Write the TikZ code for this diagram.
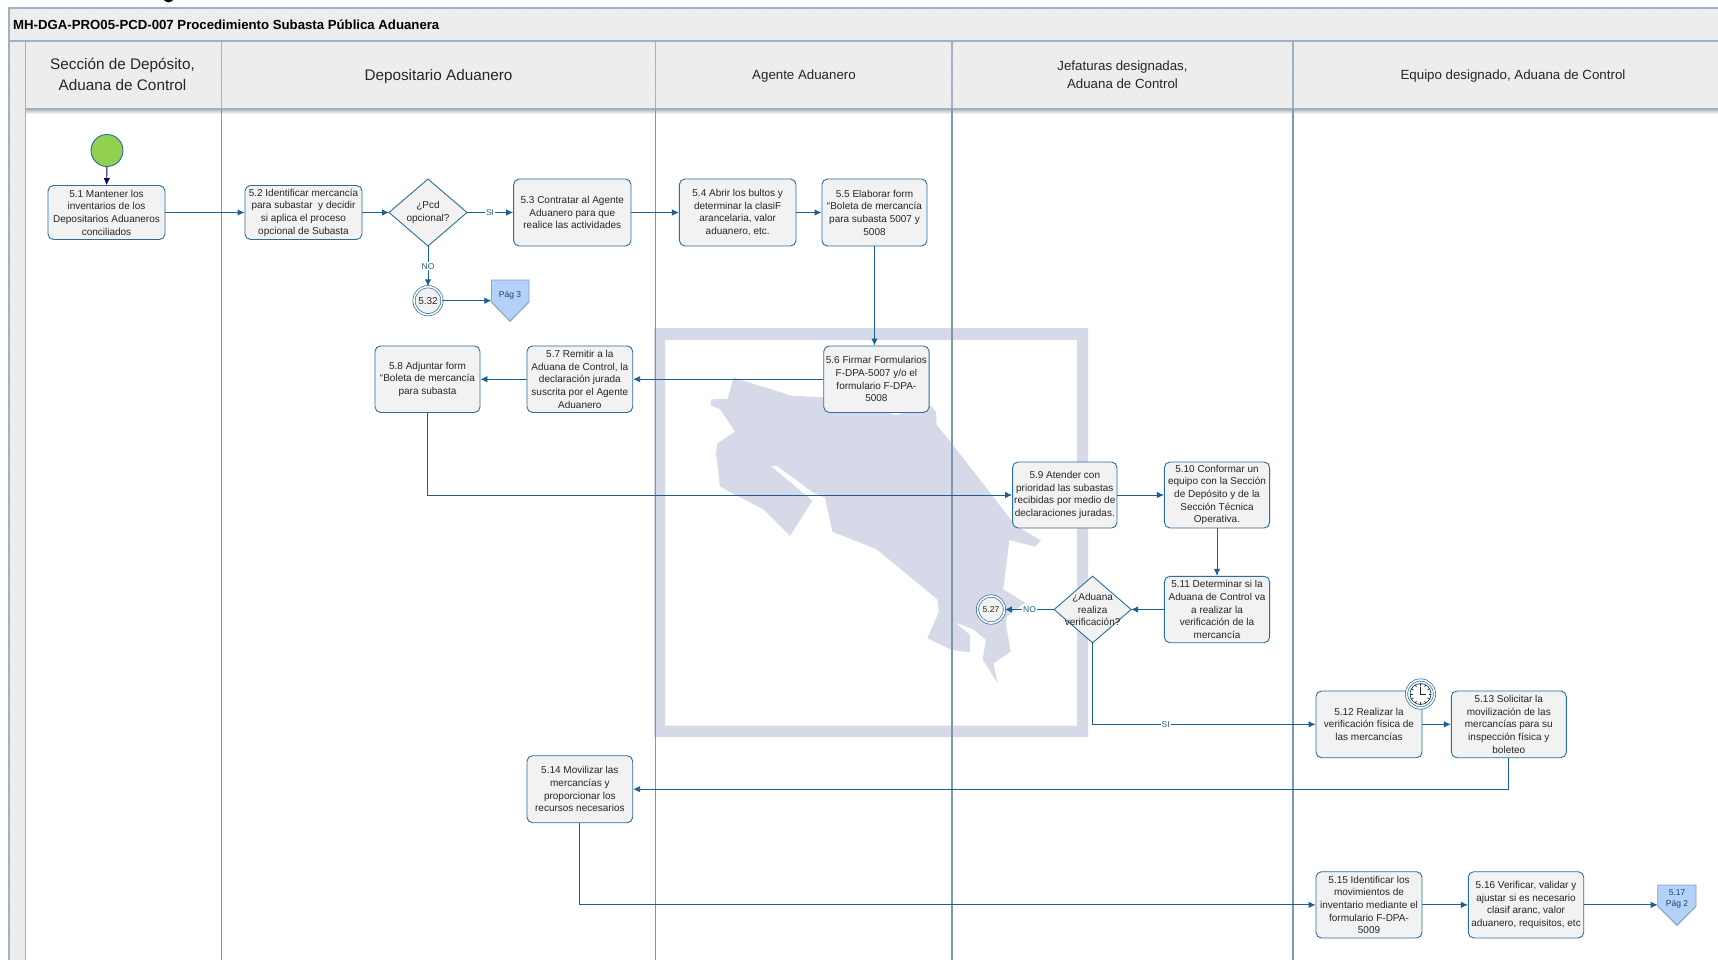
\documentclass[tikz,border=0pt]{standalone}
\usepackage{fontspec}
\setmainfont{Liberation Sans}
\usetikzlibrary{arrows.meta,shapes.geometric,shadows,calc}
\definecolor{flow}{HTML}{1B6094}
\definecolor{boxline}{HTML}{2A6E9E}
\definecolor{boxfill}{HTML}{F2F2F2}
\definecolor{lane}{HTML}{7F97AE}
\definecolor{framecol}{HTML}{9FB2C1}
\definecolor{band}{HTML}{ECECEC}
\definecolor{wmark}{HTML}{D6DAE8}
\definecolor{offfill}{HTML}{B4D2F7}
\definecolor{offline}{HTML}{7FA6CC}
\definecolor{ink}{HTML}{262626}
\definecolor{startgreen}{HTML}{92D050}
\tikzset{
  taskbox/.style={draw=boxline,fill=boxfill,line width=.9pt,rounded corners=5.5pt,align=center,inner sep=0pt,text=ink,
    font=\fontsize{10}{12.7}\selectfont},
  decision/.style={diamond,draw=boxline,fill=boxfill,line width=.9pt,inner sep=0pt,outer sep=0pt,minimum width=78pt,minimum height=67pt},
  dectext/.style={align=center,inner sep=0pt,text=ink,font=\fontsize{10}{12.7}\selectfont},
  link/.style={draw=flow,line width=.9pt,-{Latex[length=7pt,width=6.5pt]}},
  linelabel/.style={fill=white,inner sep=1pt,text=flow,font=\fontsize{8.5}{10}\selectfont},
  ringed/.style={circle,draw=boxline,fill=boxfill,line width=.7pt,double=white,double distance=1.6pt,inner sep=0pt,minimum size=27pt,text=ink},
  softshadow/.style={drop shadow={shadow xshift=0pt,shadow yshift=-1.5pt,opacity=.35}},
  offpage/.style={draw=offline,fill=offfill,line width=.8pt,softshadow},
  offtext/.style={align=center,inner sep=0pt,text=flow!70!black,font=\fontsize{8.5}{10.5}\selectfont},
  lanehead/.style={align=center,inner sep=0pt,text=ink},
  laneline/.style={draw=lane,line width=1.1pt},
  frameline/.style={draw=framecol,line width=1.2pt},
}
\begin{document}
\begin{tikzpicture}[x=1pt,y=-1pt]
\useasboundingbox (0,0) rectangle (1718,960);
\fill[white] (0,0) rectangle (1718,960);
% cut-off page heading
\begin{scope}
\clip (0,0) rectangle (300,2.2);
\fill[black] (168.5,-3) circle[radius=5.5pt];
\end{scope}
% header bands
\fill[band] (8.9,8) rectangle (1718,109);
\fill[band] (8.9,41) rectangle (25.7,960);
\begin{scope}
\clip (8.9,8) rectangle (1718,109) (8.9,41) rectangle (25.7,960);
\foreach \k in {-1000,-994,...,1718}{\draw[white,opacity=.25,line width=.8pt] (\k,0) -- (\k+960,960);}
\end{scope}
\shade[top color=black!30,bottom color=white] (25.7,109) rectangle (1718,114);
% watermark
\fill[wmark,even odd rule] (654,328) rectangle (1088,737) (665,340) rectangle (1077,725.7);
\begin{scope}[shift={(640,310)},x=.33333pt,y=-.33333pt]
\fill[wmark] (280,203)--(455,257)--(550,262)--(740,308)--(770,316)--(790,308)--(870,285)--(888,305)--(890,345)--(935,400)--(1125,645)--(1203,692)--(1185,710)--(1108,690)--(1090,838)--(1155,878)--(1100,920)--(1098,945)--(1112,1025)--(1060,1060)--(1073,1120)--(1028,1048)--(1038,990)--(1000,958)--(945,937)--(990,975)--(990,1027)--(935,1020)--(862,985)--(897,905)--(892,868)--(710,718)--(577,665)--(555,563)--(520,548)--(410,467)--(392,468)--(517,572)--(450,678)--(370,598)--(240,530)--(228,430)--(232,400)--(285,365)--(240,297)--(213,287)--(213,268)--(263,267)--cycle;
\end{scope}
% frame and lanes
\draw[frameline] (1718,8) -- (8.9,8) -- (8.9,960);
\draw[frameline] (8.9,41) -- (1718,41);
\draw[frameline] (25.7,41) -- (25.7,960);
\draw[frameline] (25.7,109) -- (1718,109);
\foreach \lx in {221.3,655.6,952,1293}{\draw[frameline] (\lx,41) -- (\lx,109); \draw[laneline] (\lx,109) -- (\lx,960);}
% titles
\node[anchor=west,inner sep=0pt,font=\fontsize{13.2}{15}\selectfont\bfseries,text=black] (title) at (13,25) {MH-DGA-PRO05-PCD-007 Procedimiento Subasta Pública Aduanera};
\node[lanehead,font=\fontsize{15.3}{20.2}\selectfont] (h1) at (122.5,74.5) {Sección de Depósito,\\Aduana de Control};
\node[lanehead,font=\fontsize{15.3}{20.2}\selectfont] (h2) at (438.5,76.5) {Depositario Aduanero};
\node[lanehead,font=\fontsize{13.3}{17.5}\selectfont] (h3) at (804,76) {Agente Aduanero};
\node[lanehead,font=\fontsize{13.3}{17.5}\selectfont] (h4) at (1122.5,74.5) {Jefaturas designadas,\\Aduana de Control};
\node[lanehead,font=\fontsize{13.3}{17.5}\selectfont] (h5) at (1513,76) {Equipo designado, Aduana de Control};
% start
\node[circle,draw=boxline,fill=startgreen,line width=.9pt,minimum size=32pt,inner sep=0pt] (start) at (107,150.5) {};
% tasks
\node[taskbox,minimum width=117pt,minimum height=54pt] (n51) at (106.5,212.5) {5.1 Mantener los\\inventarios de los\\Depositarios Aduaneros\\conciliados};
\node[taskbox,minimum width=117pt,minimum height=54pt] (n52) at (303.5,212.5) {5.2 Identificar mercancía\\para subastar\ \ y decidir\\si aplica el proceso\\opcional de Subasta};
\node[decision,label={[dectext]center:¿Pcd\\opcional?}] (d1) at (428,212.5) {};
\node[taskbox,minimum width=117.4pt,minimum height=67pt] (n53) at (572.3,212.5) {5.3 Contratar al Agente\\Aduanero para que\\realice las actividades};
\node[taskbox,minimum width=116.6pt,minimum height=67pt] (n54) at (737.7,212.5) {5.4 Abrir los bultos y\\determinar la clasiF\\arancelaria, valor\\aduanero, etc.};
\node[taskbox,minimum width=105pt,minimum height=67pt] (n55) at (874.5,212.5) {5.5 Elaborar form\\“Boleta de mercancía\\para subasta 5007 y\\5008};
\node[ringed,font=\fontsize{10}{12}\selectfont,minimum size=28pt] (n532) at (428,300.7) {5.32};
\node[taskbox,minimum width=105.3pt,minimum height=66.5pt] (n56) at (876.4,379.2) {5.6 Firmar Formularios\\F-DPA-5007 y/o el\\formulario F-DPA-\\5008};
\node[taskbox,minimum width=105.7pt,minimum height=66.5pt] (n57) at (579.85,379.2) {5.7 Remitir a la\\Aduana de Control, la\\declaración jurada\\suscrita por el Agente\\Aduanero};
\node[taskbox,minimum width=105pt,minimum height=66.5pt] (n58) at (427.5,379.2) {5.8 Adjuntar form\\“Boleta de mercancía\\para subasta};
\node[taskbox,minimum width=104.4pt,minimum height=66pt] (n59) at (1064.8,495) {5.9 Atender con\\prioridad las subastas\\recibidas por medio de\\declaraciones juradas.};
\node[taskbox,minimum width=105.2pt,minimum height=66pt] (n510) at (1217,495) {5.10 Conformar un\\equipo con la Sección\\de Depósito y de la\\Sección Técnica\\Operativa.};
\node[taskbox,minimum width=105.2pt,minimum height=66.4pt] (n511) at (1217,609.5) {5.11 Determinar si la\\Aduana de Control va\\a realizar la\\verificación de la\\mercancía};
\node[decision,minimum width=77pt,minimum height=66.7pt,label={[dectext]center:¿Aduana\\realiza\\verificación?}] (d2) at (1092.6,609.5) {};
\node[ringed,softshadow,font=\fontsize{8.5}{10}\selectfont] (n527) at (991,609.5) {5.27};
\node[taskbox,minimum width=106pt,minimum height=66.7pt] (n512) at (1369,724.35) {5.12 Realizar la\\verificación física de\\las mercancías};
\node[taskbox,minimum width=115pt,minimum height=66.7pt] (n513) at (1508.8,724.35) {5.13 Solicitar la\\movilización de las\\mercancías para su\\inspección física y\\boleteo};
\node[taskbox,minimum width=105.7pt,minimum height=67pt] (n514) at (579.85,789.2) {5.14 Movilizar las\\mercancías y\\proporcionar los\\recursos necesarios};
\node[taskbox,minimum width=106pt,minimum height=66.3pt] (n515) at (1369,904.85) {5.15 Identificar los\\movimientos de\\inventario mediante el\\formulario F-DPA-\\5009};
\node[taskbox,minimum width=115.4pt,minimum height=66.3pt] (n516) at (1526,904.85) {5.16 Verificar, validar y\\ajustar si es necesario\\clasif aranc, valor\\aduanero, requisitos, etc};
% timer
\node[circle,draw=boxline,fill=white,line width=.7pt,double=white,double distance=1.6pt,softshadow,minimum size=28pt,inner sep=0pt] (clock) at (1420.5,694) {};
\draw[draw=boxline!60!black,line width=.7pt] (clock.center) circle[radius=10.5pt];
\foreach \a in {0,30,...,330}{\draw[ink,line width=.6pt] ($(clock.center)+(\a:8pt)$) -- ($(clock.center)+(\a:10.5pt)$);}
\draw[ink,line width=.8pt] (1420.5,687.2) -- (clock.center) -- (1425.8,694);
% off-page
\draw[offpage] (491.4,280) -- (529,280) -- (529,301.7) -- (510,321) -- (491.4,301.7) -- cycle;
\node[offtext] (pag3) at (510,295) {Pág 3};
\coordinate (pag3in) at (491.4,300.7);
\draw[offpage] (1657.7,885) -- (1696,885) -- (1696,906) -- (1677,925) -- (1657.7,906) -- cycle;
\node[offtext] (pag2) at (1677,899) {5.17\\Pág 2};
\coordinate (pag2in) at (1657.7,904.85);
% connectors
\draw[link,draw=blue!35!black] (start) -- (n51);
\draw[link] (n51) -- (n52);
\draw[link] (n52) -- (d1);
\draw[link] (d1) -- node[linelabel]{SI} (n53);
\draw[link] (d1) -- node[linelabel,pos=.5]{NO} (n532);
\draw[link] (n53) -- (n54);
\draw[link] (n54) -- (n55);
\draw[link] (n532) -- (pag3in);
\draw[link] (n55.south) -- (n55.south |- n56.north);
\draw[link] (n56) -- (n57);
\draw[link] (n57) -- (n58);
\draw[link] (n58.south) |- (n59.west);
\draw[link] (n59) -- (n510);
\draw[link] (n510) -- (n511);
\draw[link] (n511) -- (d2);
\draw[link] (d2) -- node[linelabel,pos=.5]{NO} (n527);
\draw[link] (d2.south) |- node[linelabel,pos=.664]{SI} (n512.west);
\draw[link] (n512) -- (n513);
\draw[link] (n513.south) |- (n514.east);
\draw[link] (n514.south) |- (n515.west);
\draw[link] (n515) -- (n516);
\draw[link] (n516) -- (pag2in);
\end{tikzpicture}
\end{document}
